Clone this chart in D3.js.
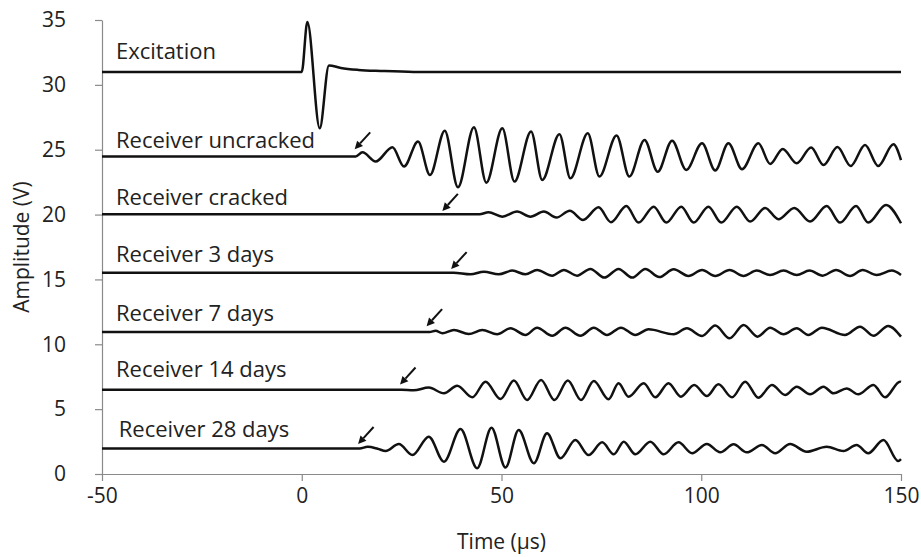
<!DOCTYPE html>
<html><head><meta charset="utf-8">
<script src="https://cdn.jsdelivr.net/npm/d3@7"></script>
<style>body{margin:0;background:#fff}svg{display:block}</style>
</head><body><svg id="c" width="921" height="557"></svg>
<script>
const xTicks = [-50, 0, 50, 100, 150];
const yTicks = [0, 5, 10, 15, 20, 25, 30, 35];
const seriesNames = ["Excitation", "Receiver uncracked", "Receiver cracked", "Receiver 3 days", "Receiver 7 days", "Receiver 14 days", "Receiver 28 days"];

const excitation = [[-50,31],[0,31],[1.4,34.85],[4.5,26.65],[6.8,31.5],[9.8,31.3],[14.2,31.15],[19.8,31.07],[28,31.0],[150,31.0]];
const uncracked = [[-50,24.47],[13.5,24.47],[15.2,24.8],[18.5,24.09],[22.7,25.19],[25.6,23.7],[29.1,25.63],[32.1,23.05],[35.8,26.47],[39.1,22.1],[43.1,26.73],[46.2,22.46],[50.2,26.65],[53.25,22.54],[57.4,26.4],[60.2,22.67],[64.5,26.2],[67.25,22.8],[71.6,26.26],[74.5,22.93],[78.8,26.1],[82.0,22.93],[85.8,25.75],[89.1,23.3],[92.7,25.7],[96.25,23.44],[100.2,25.5],[103.5,23.4],[106.8,25.5],[110.2,23.5],[114.3,25.5],[117.25,23.9],[120.4,25.06],[123.9,23.95],[127.5,25.17],[130.6,23.82],[134.1,25.2],[137.4,23.75],[141,25.37],[144.3,23.75],[148.1,25.42],[150,24.2]];
const cracked = [[-50,20.02],[44.5,20.02],[46.75,20.18],[50.2,19.84],[53.9,20.23],[57.25,19.84],[60.6,20.23],[63.75,19.77],[67.1,20.3],[70.4,19.59],[74.3,20.56],[77.4,19.41],[81.25,20.66],[84.3,19.38],[88.1,20.61],[91.25,19.38],[95,20.61],[98.1,19.38],[101.8,20.61],[105,19.38],[108.9,20.61],[112.25,19.46],[116,20.51],[119.3,19.64],[123.3,20.51],[127.25,19.46],[131.4,20.66],[134.75,19.38],[138.75,20.66],[141.8,19.38],[146.25,20.74],[150,19.33]];
const days3 = [[-50,15.52],[38,15.52],[42.25,15.39],[45.6,15.6],[49.3,15.39],[52.7,15.68],[56,15.39],[58.9,15.73],[62.7,15.29],[65.6,15.73],[68.9,15.29],[72.25,15.81],[75.75,15.14],[79.3,15.81],[82.7,15.14],[86,15.81],[89.5,15.18],[93.1,15.78],[96.8,15.27],[100.2,15.73],[103.5,15.27],[107.1,15.73],[110.6,15.27],[113.9,15.68],[117.25,15.34],[120.6,15.68],[123.9,15.34],[127.1,15.68],[130.4,15.29],[133.75,15.73],[137.25,15.27],[140.4,15.73],[143.9,15.34],[147.7,15.68],[150,15.34]];
const days7 = [[-50,10.95],[32,10.95],[33.5,11.05],[35.2,10.85],[38.1,11.1],[41.8,10.79],[45.2,11.1],[48.9,10.77],[52.25,11.23],[56,10.72],[58.9,11.28],[62.7,10.66],[66,11.28],[69.75,10.66],[73.1,11.28],[76.4,10.72],[79.9,11.28],[83.5,10.72],[86.8,11.15],[93.1,10.77],[96.4,11.23],[100.2,10.64],[103.5,11.44],[107.1,10.46],[110.6,11.49],[114.1,10.59],[117.25,11.28],[120.6,10.77],[123.9,11.23],[126.8,10.72],[130.2,11.28],[136,10.72],[139.75,11.36],[143.1,10.66],[146.8,11.41],[150,10.59]];
const days14 = [[-50,6.5],[25,6.5],[28,6.45],[31.8,6.66],[35.6,6.22],[38.9,6.81],[42.7,5.91],[46,7.12],[49.75,5.78],[53.1,7.2],[56.4,5.7],[59.9,7.25],[63.25,5.7],[66.6,7.2],[69.9,5.7],[73.1,7.17],[76.8,5.76],[79.3,7.0],[81.8,5.96],[85.6,7.0],[88.5,5.91],[91.8,7.0],[94.9,5.96],[98.25,6.86],[101.4,6.01],[104.3,6.91],[107.7,5.91],[111,7.12],[114.3,5.88],[117.7,6.86],[121,6.09],[123.9,6.73],[127.25,6.14],[130.6,6.73],[133.1,6.22],[136.4,6.6],[139.3,6.14],[143.1,6.86],[146,5.91],[149.75,7.12],[150,7.1]];
const days28 = [[-50,1.97],[14.5,1.97],[16.5,2.1],[19,1.95],[21,1.77],[24.3,2.31],[27.7,1.46],[31.8,2.88],[35.6,0.95],[39.75,3.47],[43.9,0.45],[47.5,3.57],[51,0.5],[54.3,3.39],[58.1,0.82],[61.4,3.14],[64.75,1.21],[68.5,2.62],[71.8,1.46],[75.2,2.44],[78.1,1.52],[80.6,2.49],[83.5,1.52],[87.25,2.49],[90.6,1.52],[94.3,2.44],[97.7,1.6],[101.4,2.31],[104.75,1.67],[108.1,2.29],[111.4,1.67],[115.2,2.24],[118.5,1.6],[122.25,2.31],[126.4,1.72],[131.4,2.1],[135.6,1.77],[138.9,2.24],[141.8,1.6],[145.6,2.62],[149.3,1.0],[150,1.15]];

const labelT = [-46.5, -46.5, -46.5, -46.5, -46.5, -46.5, -45.8];
const labelV = [32.0, 25.13, 20.74, 16.35, 11.8, 7.48, 2.85];
const arrowT = [13.25, 35.2, 37.4, 31.25, 24.6, 14.1];
const arrowV = [25.03, 20.28, 15.8, 11.4, 6.9, 2.31];

const allSeries = [excitation, uncracked, cracked, days3, days7, days14, days28];

const FONT = "'Open Sans', sans-serif";
const svg = d3.select("#c");
const x = d3.scaleLinear().domain([-50, 150]).range([102, 901]);
const y = d3.scaleLinear().domain([0, 35]).range([474, 20]);
const axisColor = "#8a8a8a";
const textColor = "#222";

// Axes
const gx = svg.append("g").attr("transform", `translate(0,${y(0)})`)
  .call(d3.axisBottom(x).tickValues(xTicks).tickSize(7).tickSizeOuter(0).tickPadding(7).tickFormat(d => String(d)));
const gy = svg.append("g").attr("transform", `translate(${x(-50)},0)`)
  .call(d3.axisLeft(y).tickValues(yTicks).tickSize(7).tickSizeOuter(0).tickPadding(29).tickFormat(d => String(d)));
[gx, gy].forEach(g => {
  g.select(".domain").attr("stroke", axisColor).attr("stroke-width", 1.2);
  g.selectAll(".tick line").attr("stroke", axisColor).attr("stroke-width", 1.2);
  g.selectAll(".tick text").attr("fill", textColor).style("font-family", FONT).style("font-size", "21px");
});

// Lines
const line = d3.line().x(d => x(d[0])).y(d => y(d[1])).curve(d3.curveMonotoneX);
svg.append("g").selectAll("path").data(allSeries).join("path")
  .attr("d", line).attr("fill", "none").attr("stroke", "#111").attr("stroke-width", 2.5)
  .attr("stroke-linejoin", "round");

// Labels
svg.append("g").selectAll("text").data(seriesNames).join("text")
  .attr("x", (d, i) => x(labelT[i])).attr("y", (d, i) => y(labelV[i]))
  .text(d => d).attr("fill", textColor).style("font-family", FONT).style("font-size", "22px");

// Arrows
const ag = svg.append("g");
arrowT.forEach((t, i) => {
  const tx = x(t), ty = y(arrowV[i]);
  const sx = tx + 15.5, sy = ty - 17;
  const ang = Math.atan2(ty - sy, tx - sx);
  const hl = 8, hw = 4;
  const bx = tx - hl * Math.cos(ang), by = ty - hl * Math.sin(ang);
  ag.append("line").attr("x1", sx).attr("y1", sy).attr("x2", bx).attr("y2", by)
    .attr("stroke", "#111").attr("stroke-width", 2);
  const px = -Math.sin(ang) * hw, py = Math.cos(ang) * hw;
  ag.append("path").attr("d", `M${tx},${ty}L${bx + px},${by + py}L${bx - px},${by - py}Z`).attr("fill", "#111");
});

// Axis titles
svg.append("text").attr("x", x(50)).attr("y", 549).attr("text-anchor", "middle")
  .text("Time (µs)").attr("fill", textColor).style("font-family", FONT).style("font-size", "21px");
svg.append("text").attr("transform", `translate(29,${(y(0) + y(35)) / 2}) rotate(-90)`).attr("text-anchor", "middle")
  .text("Amplitude (V)").attr("fill", textColor).style("font-family", FONT).style("font-size", "21px");
</script></body></html>
